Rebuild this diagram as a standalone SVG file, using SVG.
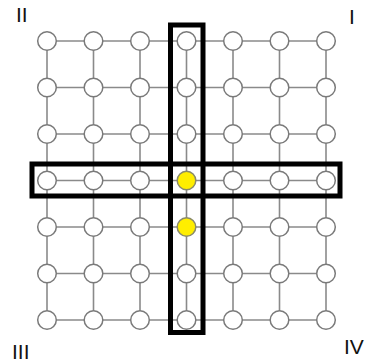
<svg xmlns="http://www.w3.org/2000/svg" width="369" height="364" viewBox="0 0 369 364">
  <style>
    .edge { stroke: #8a8a8a; stroke-width: 1.6; fill: none; }
    .node { fill: #ffffff; stroke: #7a7a7a; stroke-width: 1.5; }
    .hot { fill: #ffee00; stroke: #8a8a6a; stroke-width: 1.5; }
    .frame { fill: none; stroke: #000000; stroke-width: 5; }
    .quad { font-family: "Liberation Sans", Arial, sans-serif; font-size: 21px; fill: #111111; }
  </style>
  <rect width="369" height="364" fill="#ffffff"/>
  <g id="connectors">
    <!-- horizontal grid lines -->
    <path class="edge" d="M47 41H326M47 87.5H326M47 134H326M47 180.5H326M47 227H326M47 273.5H326M47 320H326"/>
    <!-- vertical grid lines -->
    <path class="edge" d="M47 41V320M93.5 41V320M140 41V320M186.5 41V320M233 41V320M279.5 41V320M326 41V320"/>
  </g>
  <g id="nodes">
    <g id="row1">
      <circle class="node" cx="47" cy="41" r="9.3"/><circle class="node" cx="93.5" cy="41" r="9.3"/><circle class="node" cx="140" cy="41" r="9.3"/><circle class="node" cx="186.5" cy="41" r="9.3"/><circle class="node" cx="233" cy="41" r="9.3"/><circle class="node" cx="279.5" cy="41" r="9.3"/><circle class="node" cx="326" cy="41" r="9.3"/>
    </g>
    <g id="row2">
      <circle class="node" cx="47" cy="87.5" r="9.3"/><circle class="node" cx="93.5" cy="87.5" r="9.3"/><circle class="node" cx="140" cy="87.5" r="9.3"/><circle class="node" cx="186.5" cy="87.5" r="9.3"/><circle class="node" cx="233" cy="87.5" r="9.3"/><circle class="node" cx="279.5" cy="87.5" r="9.3"/><circle class="node" cx="326" cy="87.5" r="9.3"/>
    </g>
    <g id="row3">
      <circle class="node" cx="47" cy="134" r="9.3"/><circle class="node" cx="93.5" cy="134" r="9.3"/><circle class="node" cx="140" cy="134" r="9.3"/><circle class="node" cx="186.5" cy="134" r="9.3"/><circle class="node" cx="233" cy="134" r="9.3"/><circle class="node" cx="279.5" cy="134" r="9.3"/><circle class="node" cx="326" cy="134" r="9.3"/>
    </g>
    <g id="row4">
      <circle class="node" cx="47" cy="180.5" r="9.3"/><circle class="node" cx="93.5" cy="180.5" r="9.3"/><circle class="node" cx="140" cy="180.5" r="9.3"/><circle class="hot" cx="186.5" cy="180.5" r="9.3"/><circle class="node" cx="233" cy="180.5" r="9.3"/><circle class="node" cx="279.5" cy="180.5" r="9.3"/><circle class="node" cx="326" cy="180.5" r="9.3"/>
    </g>
    <g id="row5">
      <circle class="node" cx="47" cy="227" r="9.3"/><circle class="node" cx="93.5" cy="227" r="9.3"/><circle class="node" cx="140" cy="227" r="9.3"/><circle class="hot" cx="186.5" cy="227" r="9.3"/><circle class="node" cx="233" cy="227" r="9.3"/><circle class="node" cx="279.5" cy="227" r="9.3"/><circle class="node" cx="326" cy="227" r="9.3"/>
    </g>
    <g id="row6">
      <circle class="node" cx="47" cy="273.5" r="9.3"/><circle class="node" cx="93.5" cy="273.5" r="9.3"/><circle class="node" cx="140" cy="273.5" r="9.3"/><circle class="node" cx="186.5" cy="273.5" r="9.3"/><circle class="node" cx="233" cy="273.5" r="9.3"/><circle class="node" cx="279.5" cy="273.5" r="9.3"/><circle class="node" cx="326" cy="273.5" r="9.3"/>
    </g>
    <g id="row7">
      <circle class="node" cx="47" cy="320" r="9.3"/><circle class="node" cx="93.5" cy="320" r="9.3"/><circle class="node" cx="140" cy="320" r="9.3"/><circle class="node" cx="186.5" cy="320" r="9.3"/><circle class="node" cx="233" cy="320" r="9.3"/><circle class="node" cx="279.5" cy="320" r="9.3"/><circle class="node" cx="326" cy="320" r="9.3"/>
    </g>
  </g>
  <g id="frames">
    <rect id="column-frame" class="frame" x="170.5" y="25" width="32.5" height="307.5"/>
    <rect id="row-frame" class="frame" x="32" y="164" width="308" height="32"/>
  </g>
  <g id="quadrant-labels">
    <text class="quad" x="16" y="22">II</text>
    <text class="quad" x="349" y="24">I</text>
    <text class="quad" x="12" y="359">III</text>
    <text class="quad" x="344" y="354">IV</text>
  </g>
</svg>
